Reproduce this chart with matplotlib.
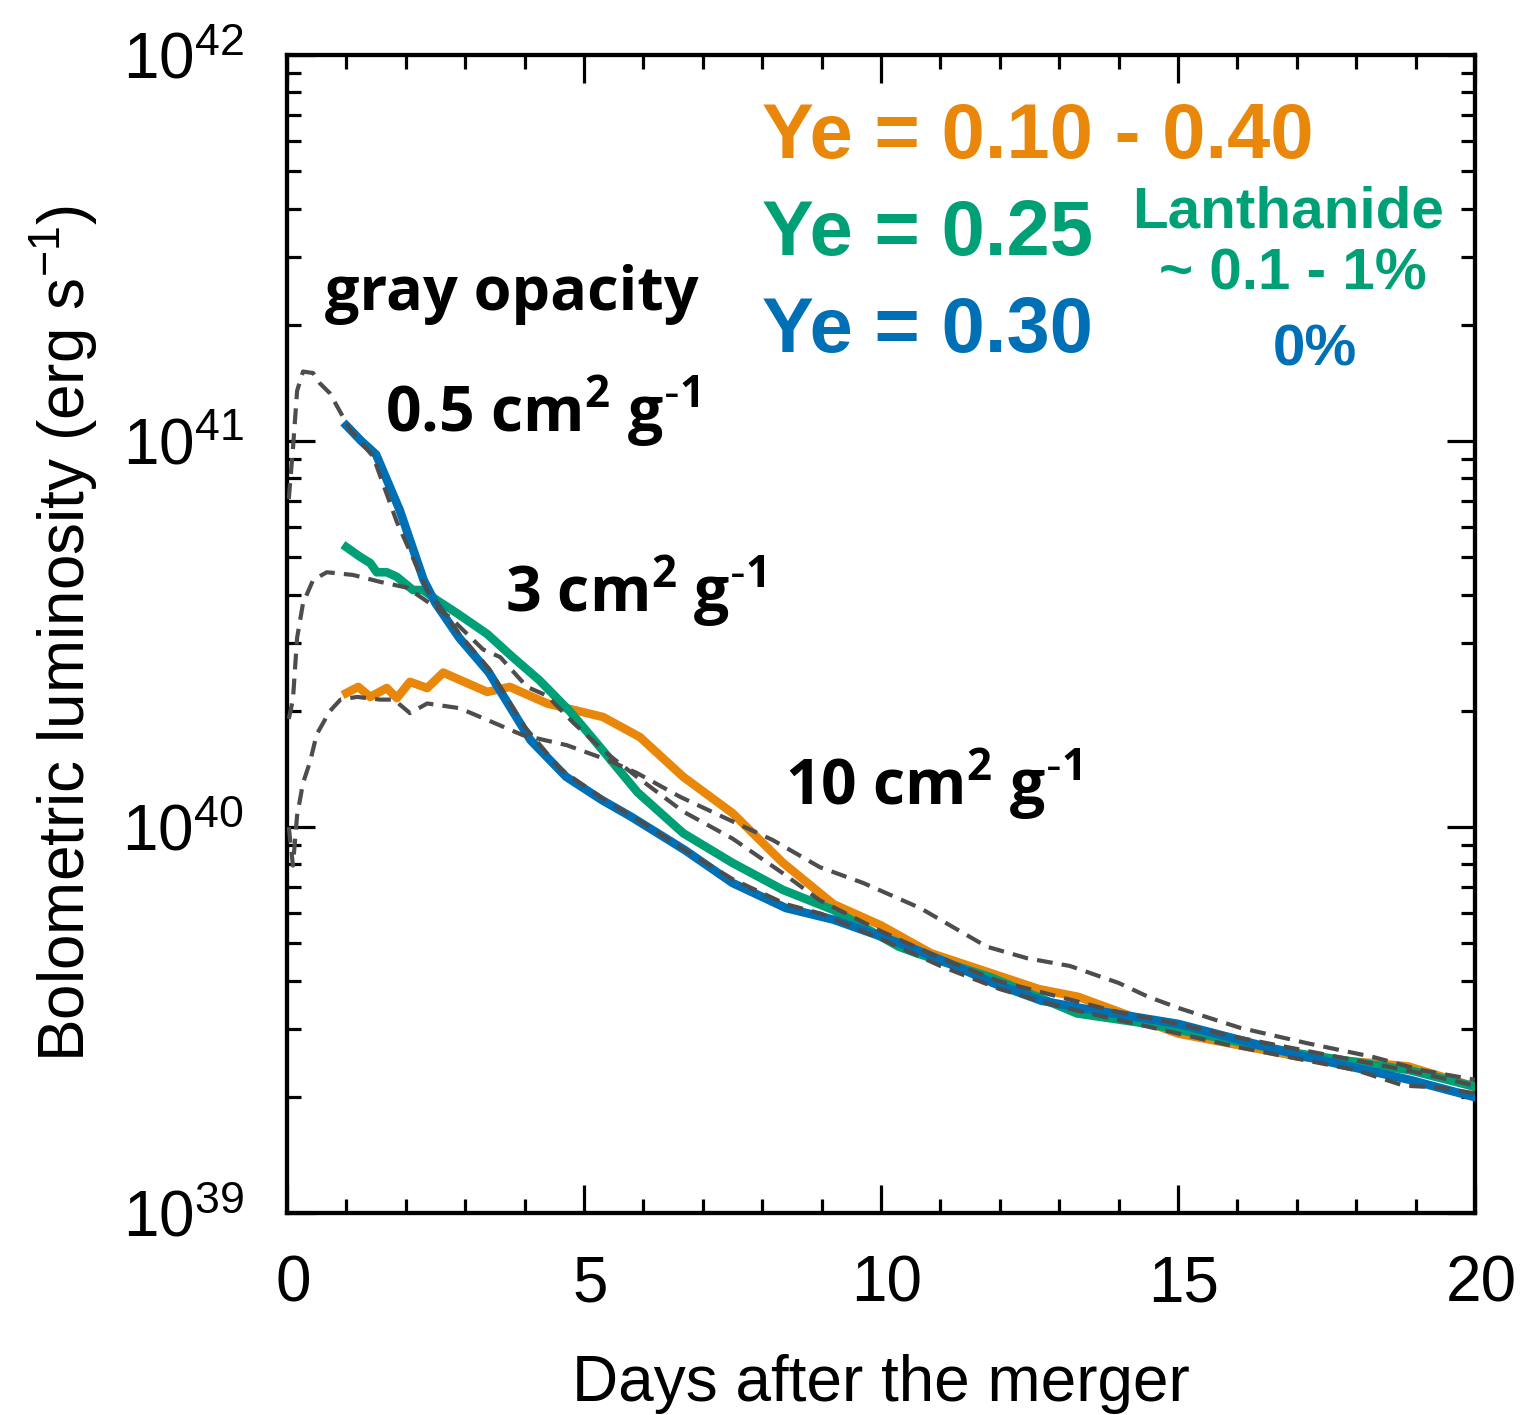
import numpy as np
import matplotlib
matplotlib.use("Agg")
import matplotlib.pyplot as plt
import matplotlib.transforms as mtransforms
from matplotlib.ticker import LogLocator, FixedLocator, NullFormatter, FuncFormatter

plt.rcParams['font.family'] = ['Liberation Sans', 'DejaVu Sans']
plt.rcParams['mathtext.default'] = 'regular'

# ---- data (days, log10 L) ----
days_ye010_040 = [1.0, 1.2, 1.4, 1.68, 1.85, 2.07, 2.36, 2.63, 3.0, 3.37, 3.75, 4.38, 5.32, 5.94, 6.67,
                  7.5, 8.35, 9.2, 10.0, 10.84, 12.66, 13.32, 15.0, 17.04, 18.87, 20.0]
logL_ye010_040 = [40.347, 40.363, 40.337, 40.36, 40.334, 40.376, 40.36, 40.40, 40.375, 40.35, 40.363, 40.32,
                  40.285, 40.233, 40.13, 40.036, 39.907, 39.80, 39.745, 39.673, 39.58, 39.56, 39.465,
                  39.405, 39.38, 39.327]

days_ye025 = [1.0, 1.23, 1.40, 1.51, 1.68, 1.85, 2.12, 2.29, 2.52, 2.86, 3.37, 3.8, 4.25, 4.76, 5.27,
              5.9, 6.67, 7.5, 8.35, 9.2, 10.3, 10.6, 11.86, 13.3, 14.5, 17.0, 18.9, 20.0]
logL_ye025 = [40.725, 40.70, 40.684, 40.66, 40.66, 40.648, 40.614, 40.614, 40.588, 40.554, 40.50, 40.44,
              40.38, 40.30, 40.207, 40.09, 39.984, 39.907, 39.837, 39.785, 39.69, 39.673, 39.61,
              39.517, 39.49, 39.414, 39.37, 39.327]

days_ye030 = [1.0, 1.25, 1.5, 1.9, 2.3, 2.5, 2.9, 3.4, 4.1, 4.7, 5.3, 5.8, 6.7, 7.5, 8.4, 9.2, 10.3,
              11.1, 11.9, 12.7, 13.4, 15.0, 17.0, 18.9, 20.0]
logL_ye030 = [41.04, 41.00, 40.965, 40.82, 40.64, 40.58, 40.49, 40.40, 40.225, 40.13, 40.07, 40.026,
              39.94, 39.855, 39.79, 39.76, 39.70, 39.65, 39.595, 39.55, 39.53, 39.49, 39.41, 39.345, 39.30]

days_k05 = [0.03, 0.1, 0.17, 0.27, 0.44, 0.55, 0.72, 1.06, 1.45, 1.85, 2.36, 2.9, 3.4, 4.0, 4.6, 5.3,
            6.0, 6.7, 7.5, 8.4, 9.0, 10.0, 11.0, 12.0, 13.0, 14.0, 15.0, 16.0, 17.0, 18.0, 18.8, 19.4, 20.0]
logL_k05 = [40.85, 40.98, 41.13, 41.18, 41.176, 41.15, 41.124, 41.03, 40.96, 40.79, 40.614, 40.50,
            40.41, 40.26, 40.15, 40.075, 40.01, 39.94, 39.865, 39.80, 39.775, 39.71, 39.64, 39.58,
            39.535, 39.50, 39.465, 39.43, 39.40, 39.37, 39.33, 39.325, 39.31]

days_k3 = [0.03, 0.1, 0.17, 0.27, 0.44, 0.67, 1.11, 1.57, 2.02, 2.4, 2.74, 3.3, 3.59, 4.04, 4.38, 4.82,
           5.39, 5.89, 6.67, 7.5, 8.35, 8.97, 10.0, 11.0, 12.0, 13.0, 14.0, 15.0, 16.0, 17.0, 18.0,
           19.0, 20.0]
logL_k3 = [40.28, 40.33, 40.49, 40.58, 40.64, 40.66, 40.653, 40.635, 40.62, 40.58, 40.544, 40.46,
           40.44, 40.363, 40.34, 40.27, 40.19, 40.13, 40.04, 39.97, 39.88, 39.81, 39.73, 39.66,
           39.60, 39.56, 39.52, 39.49, 39.455, 39.425, 39.395, 39.365, 39.33]

days_k10 = [0.03, 0.1, 0.17, 0.27, 0.39, 0.5, 0.72, 0.9, 1.18, 1.57, 1.8, 2.07, 2.36, 2.9, 3.3, 3.97,
            4.71, 5.39, 5.89, 6.62, 7.34, 8.18, 8.97, 9.7, 10.66, 11.78, 12.46, 13.18, 14.0, 14.5,
            15.03, 16.04, 17.17, 18.29, 19.1, 20.0]
logL_k10 = [40.0, 39.90, 40.03, 40.114, 40.17, 40.24, 40.30, 40.33, 40.337, 40.33, 40.33, 40.295,
            40.32, 40.308, 40.282, 40.238, 40.212, 40.174, 40.14, 40.078, 40.026, 39.966, 39.896,
            39.855, 39.79, 39.69, 39.66, 39.64, 39.596, 39.56, 39.53, 39.48, 39.44, 39.404, 39.37, 39.345]

x_ticks = [0, 5, 10, 15, 20]
y_ticks = [1e39, 1e40, 1e41, 1e42]

c_orange = '#E8870A'
c_green = '#00A077'
c_blue = '#0070B6'
c_dash = '#4D4D4D'

W, H = 1525, 1415
fig = plt.figure(figsize=(W / 100, H / 100), dpi=100)
ax = fig.add_axes([287 / W, 1 - 1213 / H, (1475 - 287) / W, (1213 - 55) / H])

def L(v):
    return 10 ** np.asarray(v)

ax.plot(days_ye010_040, L(logL_ye010_040), color=c_orange, lw=6.2, zorder=3)
ax.plot(days_ye025, L(logL_ye025), color=c_green, lw=6.2, zorder=4)
ax.plot(days_ye030, L(logL_ye030), color=c_blue, lw=6.2, zorder=5)
for d, v in [(days_k05, logL_k05), (days_k3, logL_k3), (days_k10, logL_k10)]:
    ax.plot(d, L(v), color=c_dash, lw=3.0, ls=(0, (3.8, 2.2)), zorder=6)

ax.set_yscale('log')
ax.set_xlim(0, 20)
ax.set_ylim(1e39, 1e42)
ax.xaxis.set_major_locator(FixedLocator(x_ticks))
ax.xaxis.set_minor_locator(FixedLocator(np.arange(0, 21, 1)))
ax.yaxis.set_major_locator(FixedLocator(y_ticks))
ax.yaxis.set_minor_locator(LogLocator(base=10, subs=np.arange(2, 10)))
ax.yaxis.set_minor_formatter(NullFormatter())
ax.yaxis.set_major_formatter(FuncFormatter(lambda v, p: r'$10^{%d}$' % int(round(np.log10(v)))))
ax.xaxis.set_major_formatter(FuncFormatter(lambda v, p: '%d' % v))

for s in ax.spines.values():
    s.set_linewidth(3.1)
ax.tick_params(which='both', direction='in', top=True, right=True, width=2.3, labelsize=46, colors='black')
ax.tick_params(which='major', length=20, pad=30)
ax.tick_params(which='minor', length=10)
ax.tick_params(axis='y', which='major', pad=31)

offset = mtransforms.ScaledTranslation(6 / 100, 0, fig.dpi_scale_trans)
for lab in ax.get_xticklabels():
    lab.set_transform(lab.get_transform() + offset)

ax.set_xlabel('Days after the merger', fontsize=46, labelpad=28)
ax.set_ylabel(r'Bolometric luminosity (erg s$^{-1}$)', fontsize=46, labelpad=16)

def ftxt(px, py, s, **kw):
    fig.text(px / W, 1 - py / H, s, va='baseline', **kw)

narrow = ['Liberation Sans Narrow', 'Liberation Sans']
ftxt(762, 158, 'Ye = 0.10 - 0.40', color=c_orange, fontsize=56, fontweight='bold', family=narrow)
ftxt(762, 255, 'Ye = 0.25', color=c_green, fontsize=56, fontweight='bold', family=narrow)
ftxt(762, 352, 'Ye = 0.30', color=c_blue, fontsize=56, fontweight='bold', family=narrow)
ftxt(1288, 228, 'Lanthanide', color=c_green, fontsize=42, fontweight='bold', family=narrow, ha='center')
ftxt(1293, 289, '~ 0.1 - 1%', color=c_green, fontsize=42, fontweight='bold', family=narrow, ha='center')
ftxt(1315, 365, '0%', color=c_blue, fontsize=42, fontweight='bold', family=narrow, ha='center')

osans = ['Open Sans', 'DejaVu Sans']
unit = r' cm$^{2}$ g$^{\text{-}1}$'
ftxt(325, 310, 'gray opacity', color='black', fontsize=44, fontweight='bold', family=osans)
ftxt(385, 432, '0.5' + unit, color='black', fontsize=45, fontweight='bold', family=osans)
ftxt(505, 612, '3' + unit, color='black', fontsize=45, fontweight='bold', family=osans)
ftxt(785, 805, '10' + unit, color='black', fontsize=45, fontweight='bold', family=osans)

fig.savefig('out.png', dpi=100)
